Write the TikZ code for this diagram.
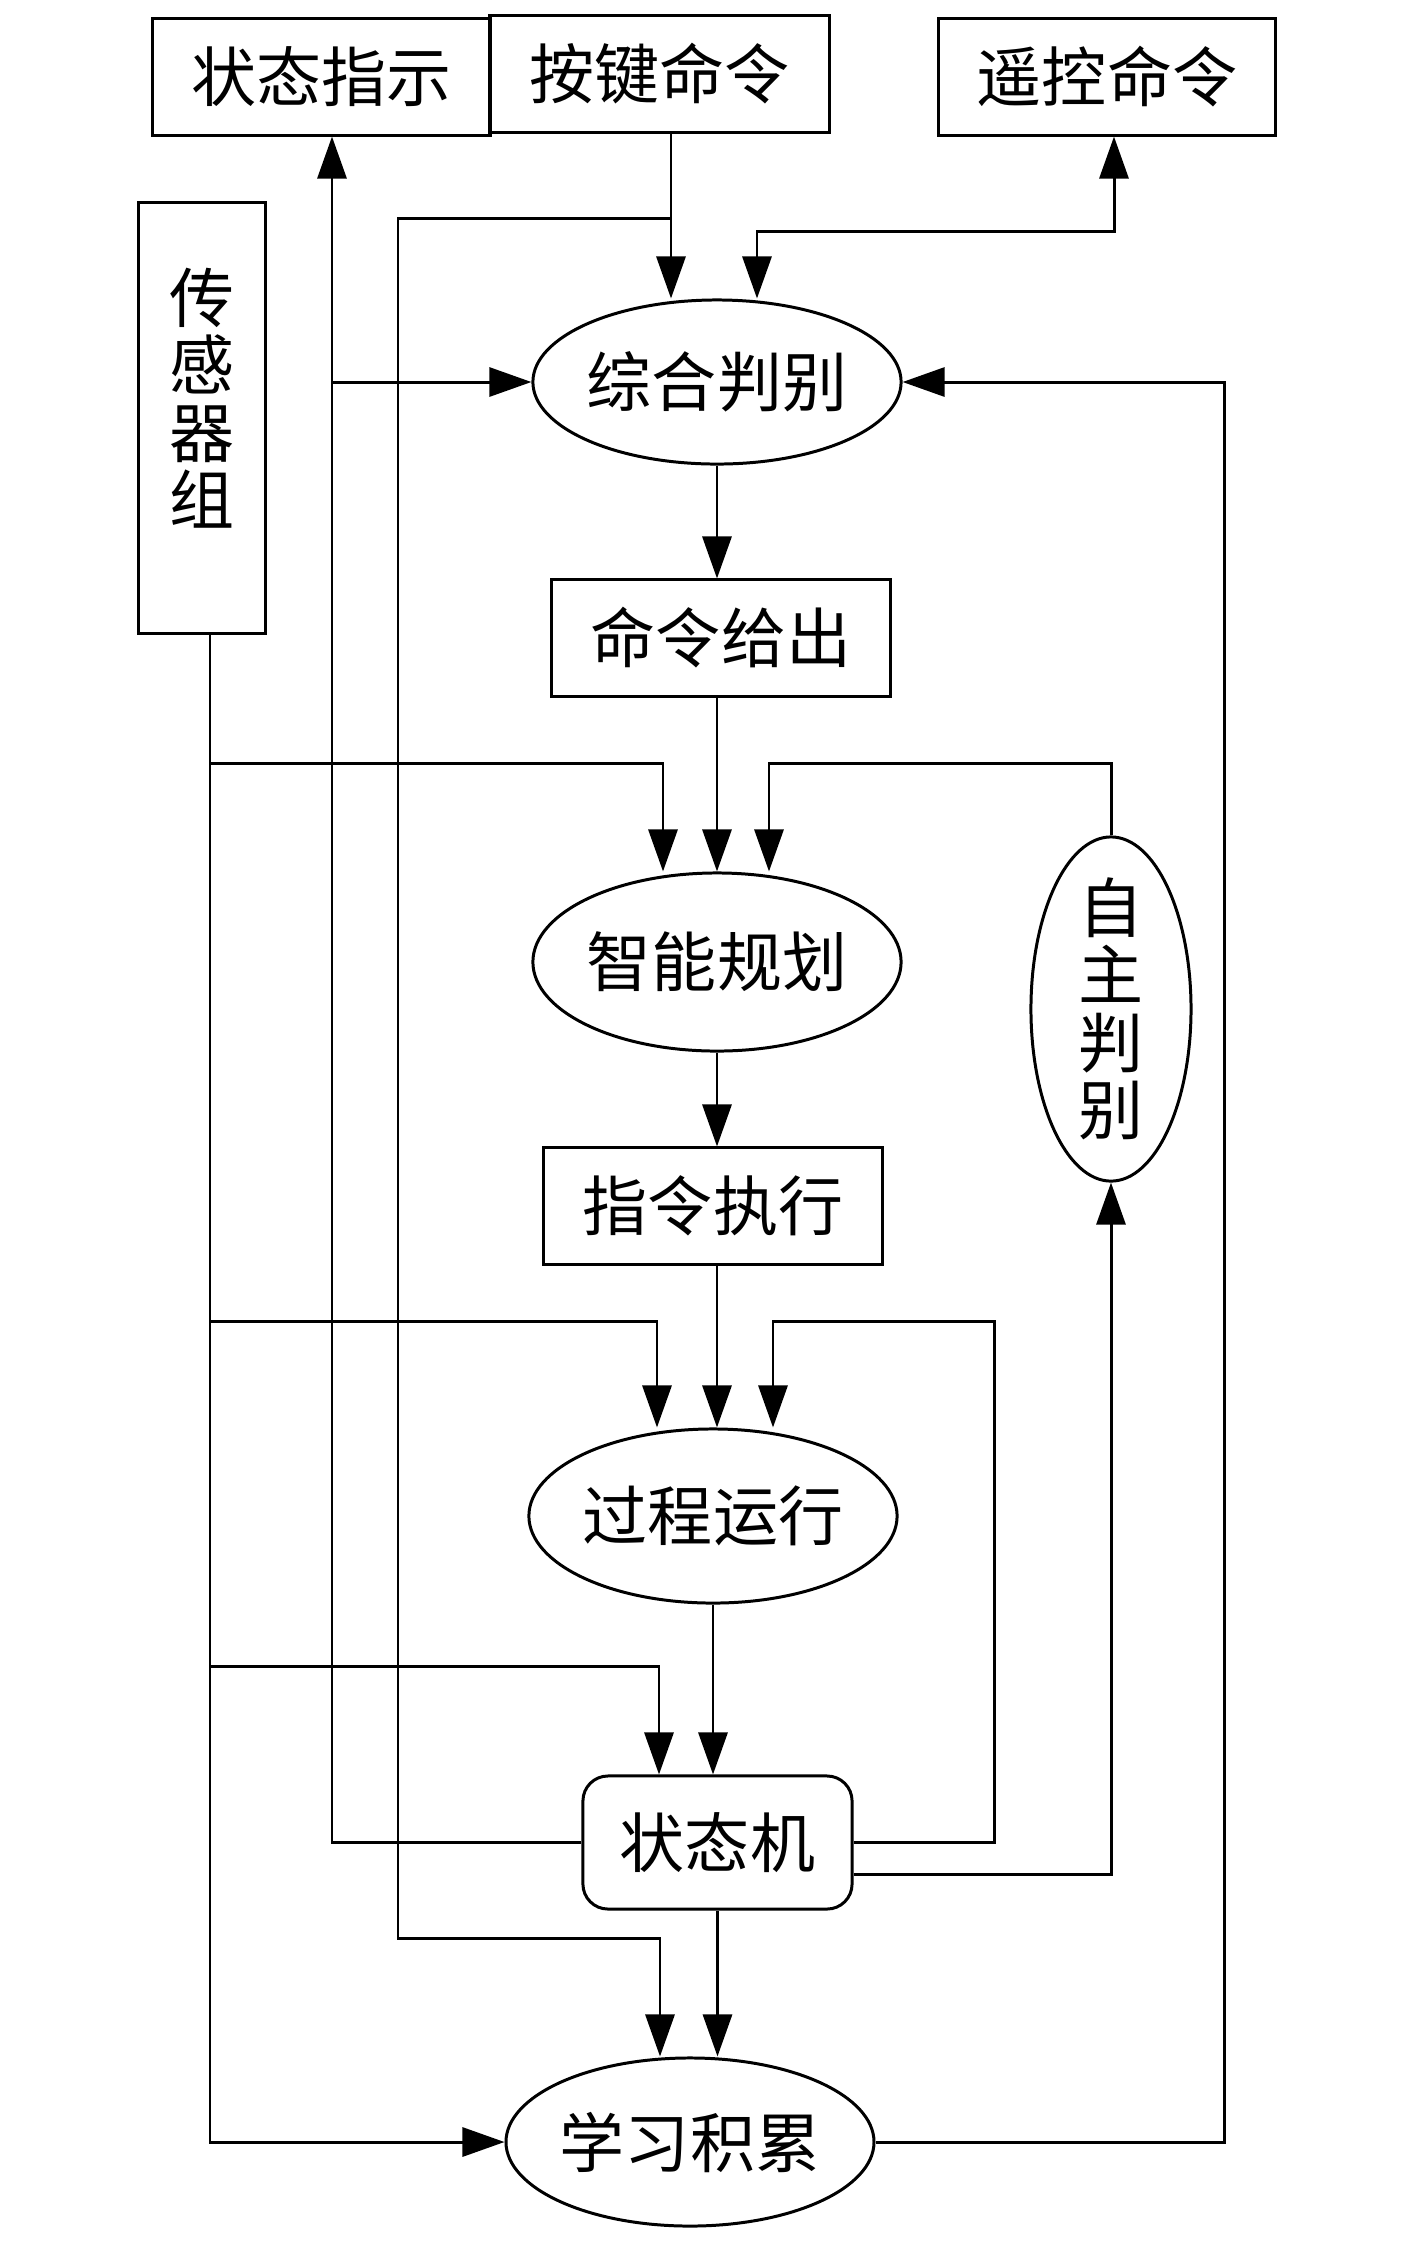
\documentclass[tikz,border=0pt]{standalone}
\usepackage{fontspec}
\newfontfamily\cjk{Noto Sans CJK SC}
\usepackage{tikz}
\usetikzlibrary{positioning, arrows.meta, shapes.geometric, calc}

\tikzset{
  base/.style={draw, line width=0.85pt, font=\cjk\fontsize{18.5}{18.5}\selectfont, inner sep=0pt},
  kuang/.style={base, rectangle, minimum width=3.37cm, minimum height=1.16cm},
  tuoyuan/.style={base, ellipse, minimum width=3.68cm},
  yuanjiao/.style={base, rectangle, rounded corners=0.25cm, minimum width=2.69cm, minimum height=1.33cm},
  shuzi/.style={font=\cjk\fontsize{18.5}{19.2}\selectfont, align=center, inner sep=0pt},
  jt/.style={-{Triangle[length=4.2mm, width=2.9mm]}, line width=0.85pt},
  jtjt/.style={{Triangle[length=4.2mm, width=2.9mm]}-{Triangle[length=4.2mm, width=2.9mm]}, line width=0.85pt},
}

\begin{document}
\begin{tikzpicture}[x=0.01cm, y=-0.01cm]
        \useasboundingbox (0,0) rectangle (1417,2244);

        % Top boxes
        \node[kuang] (ztzs) at (321.5,77) {状态指示};
        \node[kuang, minimum width=3.39cm] (ajml) at (659.5,74) {按键命令};
        \node[kuang, minimum width=3.36cm] (ykml) at (1107,77) {遥控命令};

        % Sensors
        \node[base, rectangle, minimum width=1.26cm, minimum height=4.3cm] (cgq) at (202,418) {};
        \node[shuzi] (cgqwz) at (202,398) {传\\感\\器\\组};

        % Main chain
        \node[tuoyuan, minimum height=1.64cm] (zhpb) at (717,382) {综合判别};
        \node[kuang, minimum width=3.38cm] (mlgc) at (721,638) {命令给出};
        \node[tuoyuan, minimum height=1.78cm] (zngh) at (717,962) {智能规划};
        \node[kuang, minimum width=3.38cm] (zlzx) at (713,1206) {指令执行};
        \node[tuoyuan, minimum height=1.74cm] (gcyx) at (713,1516) {过程运行};
        \node[yuanjiao] (ztj) at (717.5,1842.5) {状态机};
        \node[tuoyuan, minimum width=3.66cm, minimum height=1.68cm] (xxjl) at (690,2142) {学习积累};

        % Self judgement
        \node[base, ellipse, minimum width=1.6cm, minimum height=3.44cm] (zzpb) at (1111,1009) {};
        \node[shuzi] (zzwz) at (zzpb) {自\\主\\判\\别};

        % Columns and rows of the wires
        \coordinate (caj) at (671,0);
        \coordinate (cyk) at (757,0);
        \coordinate (cykup) at (1114,0);
        \coordinate (ccg) at (210,0);
        \coordinate (czt) at (332,0);
        \coordinate (cajl) at (398,0);
        \coordinate (czn1) at (663,0);
        \coordinate (czn2) at (769,0);
        \coordinate (cgc1) at (657,0);
        \coordinate (cgc2) at (773,0);
        \coordinate (czt1) at (659,0);
        \coordinate (cxx1) at (660,0);
        \coordinate (cloop) at (994,0);
        \coordinate (cr) at (1224,0);
        \coordinate (raj) at (0,218);
        \coordinate (ryk) at (0,231);
        \coordinate (rs1) at (0,763);
        \coordinate (rs2) at (0,1321);
        \coordinate (rs3) at (0,1666);
        \coordinate (raj2) at (0,1938);

        % Straight down the middle
        \draw[jt] (zhpb.south) -- (zhpb.south |- mlgc.north);
        \draw[jt] (zngh.north |- mlgc.south) -- (zngh.north);
        \draw[jt] (zngh.south) -- (zngh.south |- zlzx.north);
        \draw[jt] (zngh.south |- zlzx.south) -- (zngh.south |- gcyx.north);
        \draw[jt] (gcyx.south) -- (gcyx.south |- ztj.north);
        \draw[jt] (ztj.south) -- (ztj.south |- xxjl.north);

        % Key command
        \draw[jt] (ajml.south -| caj) -- (zhpb.north -| caj);
        \draw[jt] (caj |- raj) -| (cajl |- raj2) -| (xxjl.north -| cxx1);

        % Remote command
        \draw[jtjt] (zhpb.north -| cyk) |- (cykup |- ryk) -- (ykml.south -| cykup);

        % State indicator
        \draw[jt] (ztj.west) -| (ztzs.south -| czt);
        \draw[jt] (czt |- zhpb.west) -- (zhpb.west);

        % Sensor bus
        \draw[jt] (cgq.south -| ccg) |- (xxjl.west);
        \foreach \r/\n/\c in {rs1/zngh/czn1, rs2/gcyx/cgc1, rs3/ztj/czt1} {
            \draw[jt] (ccg |- \r) -| (\n.north -| \c);
        }

        % Feedback loops
        \draw[jt] (zzpb.north) |- (czn2 |- rs1) -- (zngh.north -| czn2);
        \draw[jt] (ztj.east) -| (cloop |- rs2) -| (gcyx.north -| cgc2);
        \draw[jt] ($(ztj.east)+(0,32)$) -| (zzpb.south);
        \draw[jt] (xxjl.east) -| (cr |- zhpb.east) -- (zhpb.east);
    \end{tikzpicture}
\end{document}
